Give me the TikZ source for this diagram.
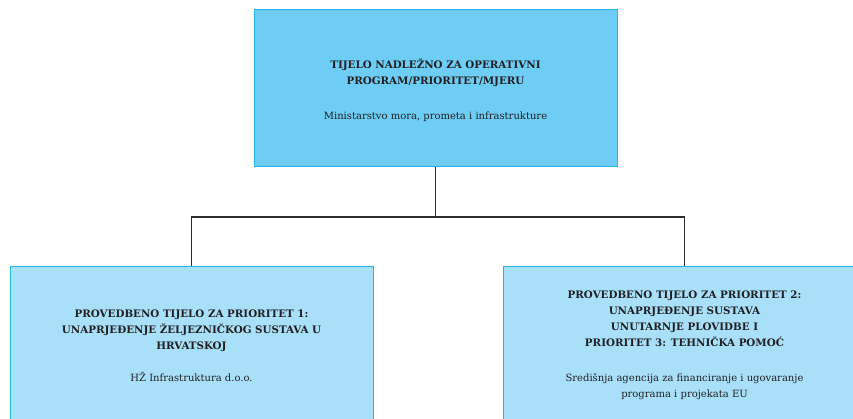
\documentclass[tikz,border=0pt]{standalone}
\usepackage{fontspec}
\setmainfont{DejaVu Serif}
\definecolor{topfill}{RGB}{109,205,245}
\definecolor{subfill}{RGB}{168,224,250}
\definecolor{boxline}{RGB}{35,180,236}
\definecolor{linkline}{RGB}{45,45,45}
\definecolor{ink}{RGB}{35,31,32}
\newcommand{\hd}[1]{\textbf{\fontsize{10.3}{16}\selectfont #1}}
\begin{document}
\begin{tikzpicture}[x=1pt,y=-1pt,
  orgbox/.style={draw=boxline, line width=1pt, minimum width=363pt, minimum height=157pt,
    align=center, inner sep=0pt, text=ink,
    font=\fontsize{10}{16}\selectfont},
  link/.style={draw=linkline, line width=1.2pt}]
\useasboundingbox (0,0) rectangle (853,419);
\node[orgbox, fill=topfill] (top) at (435.5,88.5)
  {\rule{0pt}{14pt}\hd{TIJELO NADLEŽNO ZA OPERATIVNI}\\
   \hd{PROGRAM/PRIORITET/MJERU}\\[19pt]
   Ministarstvo mora, prometa i infrastrukture};
\node[orgbox, fill=subfill] (left) at (191.5,345.5)
  {\hd{PROVEDBENO TIJELO ZA PRIORITET 1:}\\
   \hd{UNAPRJEĐENJE ŽELJEZNIČKOG SUSTAVA U}\\
   \hd{HRVATSKOJ}\\[16pt]
   HŽ Infrastruktura d.o.o.};
\node[orgbox, fill=subfill] (right) at (684.5,345)
  {\hd{PROVEDBENO TIJELO ZA PRIORITET 2:}\\
   \hd{UNAPRJEĐENJE SUSTAVA}\\
   \hd{UNUTARNJE PLOVIDBE I}\\
   \hd{PRIORITET 3: TEHNIČKA POMOĆ}\\[19pt]
   Središnja agencija za financiranje i ugovaranje\\
   programa i projekata EU};
\coordinate (j) at (435.5,217);
\draw[link] (top.south) -- (j);
\draw[link] (left.north) |- (j) -| (right.north);
\end{tikzpicture}
\end{document}
